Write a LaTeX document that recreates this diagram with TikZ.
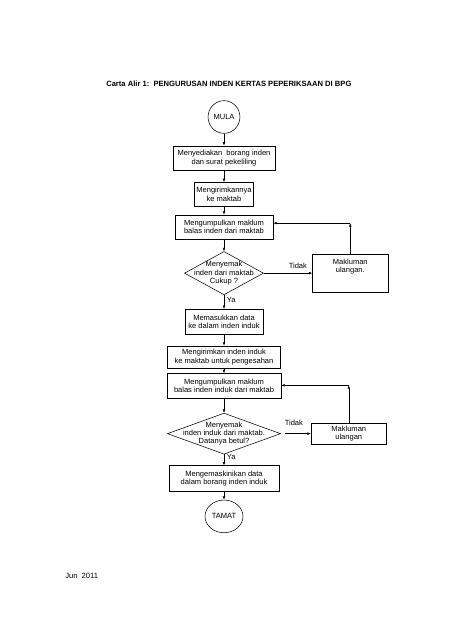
\documentclass[tikz,border=0pt]{standalone}
\usepackage{fontspec}
\setmainfont{Liberation Sans}
\usetikzlibrary{positioning,shapes.geometric,arrows.meta}

\begin{document}
\begin{tikzpicture}[x=1.316pt,y=-1.316pt,line width=0.7pt,
  font=\fontsize{9.9}{11}\selectfont,
  proc/.style={draw,rectangle,align=center,inner sep=2pt,minimum height=31.6pt},
  term/.style={draw,ellipse,inner sep=0pt,minimum height=43pt},
  decision/.style={draw,diamond,inner sep=0pt},
  arr/.style={-{Latex[length=4.5pt,width=3.5pt]}}]

\useasboundingbox (0,0) rectangle (452,640);

% title and date

\node[anchor=west,inner sep=0pt,font=\bfseries\fontsize{10}{12}\selectfont] (title) at (106,84) {Carta Alir 1:\ \ PENGURUSAN INDEN KERTAS PEPERIKSAAN DI BPG};
\node[anchor=west,inner sep=0pt,font=\fontsize{10}{12}\selectfont] (tarikh) at (65,576) {Jun\ \ 2011};

% define nodes

% first part
\node[term,minimum width=42pt] (mula) at (224,117) {MULA};
\node[proc, below=15.8pt of mula, minimum width=134pt] (sedia) {Menyediakan\ \ borang inden\\dan surat pekeliling};
\node[proc, below=15.8pt of sedia, minimum width=78pt] (hantar) {Mengirimkannya\\ke maktab};
\node[proc, below=10.5pt of hantar, minimum width=129pt] (kumpul) {Mengumpulkan maklum\\balas inden dari maktab};
\node[decision, below=15.8pt of kumpul, minimum width=104pt, minimum height=57pt,
  label={[align=center]center:Menyemak\\inden dari maktab\\Cukup ?}] (semak) {};
\node[proc, right=64pt of semak, minimum width=99pt, minimum height=49pt] (ulang) {Makluman\\ulangan.\\[8pt]};
% second part
\node[proc, below=18.4pt of semak, minimum width=103pt, minimum height=33pt] (masuk) {Memasukkan data\\ke dalam inden induk};
\node[proc, below=14.5pt of masuk, minimum width=149pt, minimum height=29pt] (sah) {Mengirimkan inden induk\\ke maktab untuk pengesahan};
\node[proc, below=6.6pt of sah, minimum width=150pt, minimum height=33pt] (kumpulb) {Mengumpulkan maklum\\balas inden induk dari maktab};
\node[decision, below=18.4pt of kumpulb, minimum width=149pt, minimum height=54pt,
  label={[align=center]center:Menyemak\\inden induk dari maktab.\\Datanya betul?}] (semakb) {};
\node[proc, right=39.5pt of semakb, minimum width=99pt, minimum height=28pt] (ulangb) {Makluman\\ulangan};
\node[proc, below=14.5pt of semakb, minimum width=145pt, minimum height=34pt] (kemas) {Mengemaskinikan data\\dalam borang inden induk};
\node[term, below=10.5pt of kemas, minimum width=50pt] (tamat) {TAMAT};
% loose ends
\coordinate[yshift=5pt] (balik) at (kumpul.east -| ulang.north);
\coordinate[yshift=1pt] (balikb) at (kumpulb.east -| ulangb.north);
\coordinate[right=5pt of semakb] (tidakb);

% edges

\draw[arr] (mula) -- (sedia);
\draw[arr] (sedia) -- (hantar);
\draw[arr] (hantar) -- (kumpul);
\draw[arr] (kumpul) -- (semak);
\draw[arr] (semak) -- node[above=2pt,pos=0.7] {Tidak} (ulang);
\draw[arr] (ulang) -- (balik);
\draw[arr] (balik) -- (balik -| kumpul.east);
\draw[arr] (semak) -- node[right,pos=0.35] {Ya} (masuk);
\draw[arr] (masuk) -- (sah);
\draw[arr] (sah) -- (kumpulb);
\draw[arr] (kumpulb) -- (semakb);
\draw[arr] (tidakb) -- node[above=7pt,pos=0.35] {Tidak} (ulangb);
\draw[arr] (ulangb) -- (balikb);
\draw[arr] (balikb) -- (balikb -| kumpulb.east);
\draw[arr] (semakb) -- node[right,pos=0.2] {Ya} (kemas);
\draw[arr] (kemas) -- (tamat);

\end{tikzpicture}
\end{document}
